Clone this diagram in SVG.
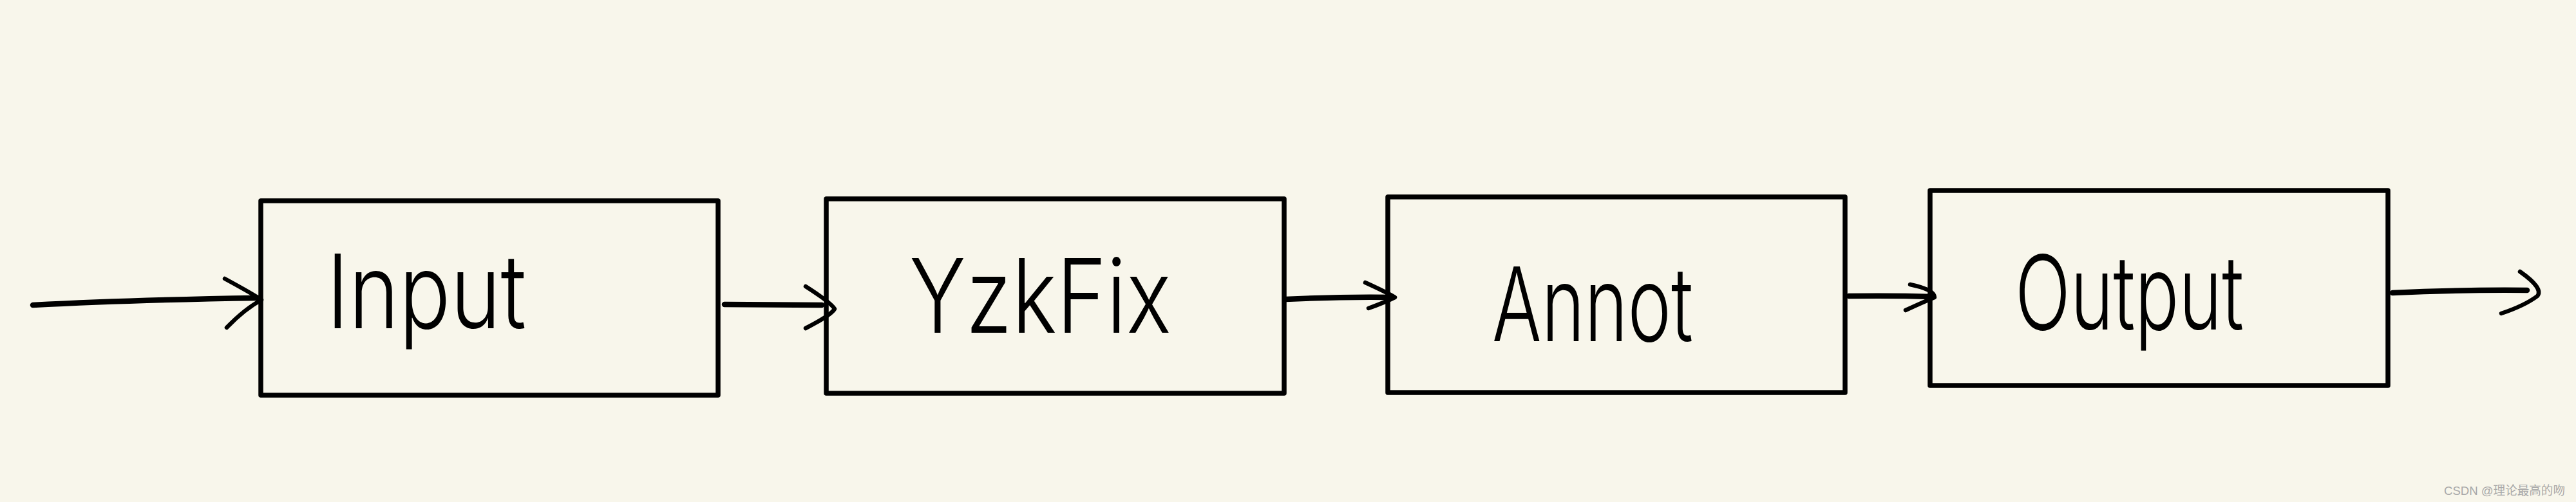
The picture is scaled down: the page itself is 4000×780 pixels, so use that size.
<svg xmlns="http://www.w3.org/2000/svg" width="4000" height="780" viewBox="0 0 4000 780">
<style>
.bg{fill:#F8F6EB}
.box{fill:none;stroke:#000;stroke-width:7.5;stroke-linejoin:round}
.lbl{font-family:Inter,"Noto Sans","DejaVu Sans",sans-serif;font-weight:300;font-size:160px;fill:#000}
.line{fill:none;stroke:#000;stroke-width:8.5;stroke-linecap:round;stroke-linejoin:round}
.head{fill:none;stroke:#000;stroke-width:6.5;stroke-linecap:round;stroke-linejoin:round}
.wm{font-family:"Liberation Sans","Noto Sans CJK SC",sans-serif;font-size:19px;fill:#A8A8A8}
</style>
<rect class="bg" x="0" y="0" width="4000" height="780"/>
<g id="connectors">
<path class="line" d="M51,474 Q200,466 400,463"/>
<path class="head" d="M349,433 Q395,458 406,466 Q380,480 352,509"/>
<path class="line" d="M1125,473 L1276,474"/>
<path class="head" d="M1251,445 Q1290,470 1296,480 Q1290,490 1251,510"/>
<path class="line" d="M1996,465 Q2080,461 2160,462"/>
<path class="head" d="M2120,439 Q2155,455 2166,462 Q2150,470 2125,479"/>
<path class="line" d="M2871,460 Q2940,459 3000,461"/>
<path class="head" d="M2966,442 Q3004,450 3004,462 Q2985,470 2959,482"/>
<path class="line" d="M3715,455 Q3820,450 3924,451"/>
<path class="head" d="M3913,422 Q3950,448 3940,460 Q3920,475 3884,487"/>
</g>
<g id="node-input">
<rect class="box" x="405" y="312" width="710" height="302"/>
<text class="lbl" x="507" y="510" textLength="310" lengthAdjust="spacingAndGlyphs">Input</text>
</g>
<g id="node-yzkfix">
<rect class="box" x="1283" y="309" width="711" height="302"/>
<text class="lbl" x="1412" y="517" textLength="407" lengthAdjust="spacingAndGlyphs">YzkFix</text>
</g>
<g id="node-annot">
<rect class="box" x="2155" y="306" width="710" height="304"/>
<text class="lbl" x="2317" y="530" textLength="312" lengthAdjust="spacingAndGlyphs">Annot</text>
</g>
<g id="node-output">
<rect class="box" x="2997" y="296" width="711" height="303"/>
<text class="lbl" x="3129" y="512" textLength="355" lengthAdjust="spacingAndGlyphs">Output</text>
</g>
<text class="wm" x="3795" y="769" textLength="188" lengthAdjust="spacingAndGlyphs">CSDN @理论最高的吻</text>
</svg>
